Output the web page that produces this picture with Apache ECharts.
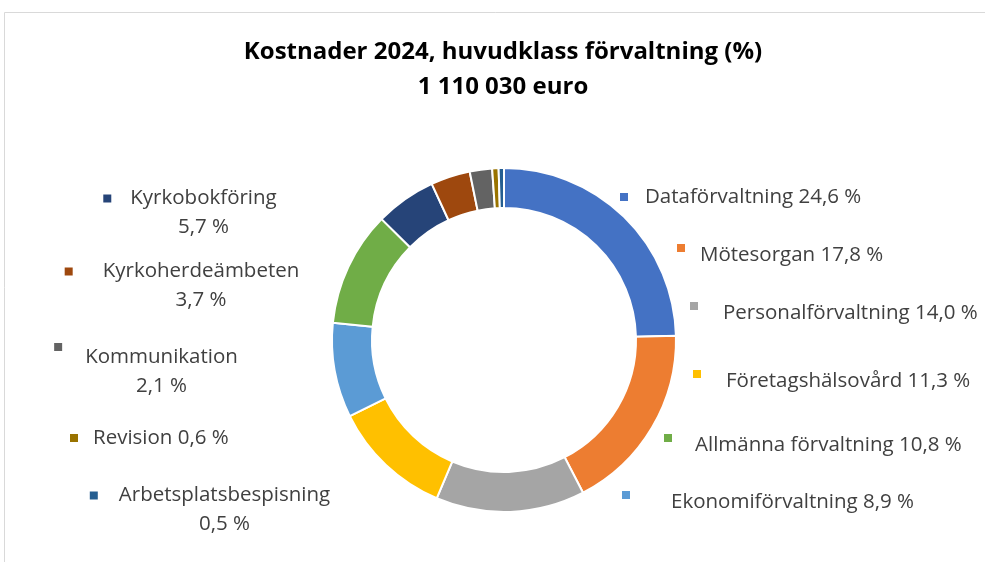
<!DOCTYPE html>
<html>
<head>
<meta charset="utf-8">
<script src="https://cdn.jsdelivr.net/npm/echarts@6/dist/echarts.min.js"></script>
<style>
  html, body { margin: 0; padding: 0; background: #fff; }
  #main { width: 985px; height: 562px; }
</style>
</head>
<body>
<div id="main"></div>
<script>
// data, clockwise from the top
var categories = ['Dataförvaltning', 'Mötesorgan', 'Personalförvaltning', 'Företagshälsovård',
  'Ekonomiförvaltning', 'Allmänna förvaltning', 'Kyrkobokföring', 'Kyrkoherdeämbeten',
  'Kommunikation', 'Revision', 'Arbetsplatsbespisning'];
var values = [24.6, 17.8, 14.0, 11.3, 8.9, 10.8, 5.7, 3.7, 2.1, 0.6, 0.5];
var titleLines = ['Kostnader 2024, huvudklass förvaltning (%)', '1 110 030 euro'];

var colors = ['#4472C4', '#ED7D31', '#A5A5A5', '#FFC000', '#5B9BD5', '#70AD47',
  '#264478', '#9E480E', '#636363', '#997300', '#255E91'];

// label placement: x, y, align, gap between marker and text, two lines, marker raised
var labelPos = [
  [620, 197, 'left', 17, false, false],
  [677, 255, 'left', 15, false, true],
  [690, 313, 'left', 25, false, true],
  [693, 381, 'left', 25, false, true],
  [622, 502, 'left', 41, false, true],
  [664, 445, 'left', 23, false, true],
  [190, 213, 'center', 19, true, false],
  [182, 286, 'center', 30, true, false],
  [146, 372, 'center', 23, true, true],
  [70, 438, 'left', 15, false, false],
  [210, 510, 'center', 21, true, false]
];

var FONT = 'Open Sans';
var FS = 20.5;
var MW = 8;

function fmt(v) {
  return v.toFixed(1).replace('.', ',') + ' %';
}

var rich = {};
labelPos.forEach(function (p, i) {
  var lh = p[4] ? 29 : 22;
  rich['m' + i] = { width: MW, height: MW, backgroundColor: colors[i],
    verticalAlign: p[5] ? 'top' : 'middle' };
  rich['g' + i] = { width: p[3], height: 1 };
  rich['t' + i] = { fontFamily: FONT, fontSize: FS, color: '#404040', lineHeight: lh };
  rich['v' + i] = { fontFamily: FONT, fontSize: FS, color: '#404040', lineHeight: 29,
    padding: [0, 0, 0, MW + p[3]] };
});

var chart = echarts.init(document.getElementById('main'));

var option = {
  backgroundColor: '#fff',
  title: {
    text: titleLines.join('\n'),
    left: 503,
    top: 35,
    textAlign: 'center',
    padding: 0,
    textStyle: {
      fontFamily: FONT,
      fontSize: 24,
      fontWeight: 'bold',
      color: '#000',
      lineHeight: 35
    }
  },
  graphic: [{
    type: 'rect',
    shape: { x: 4.5, y: 12.5, width: 1100, height: 700 },
    style: { fill: 'none', stroke: '#d9d9d9', lineWidth: 1 },
    silent: true
  }],
  series: [{
    type: 'pie',
    center: [504, 340],
    radius: [132, 172],
    startAngle: 90,
    clockwise: true,
    avoidLabelOverlap: false,
    itemStyle: { borderColor: '#fff', borderWidth: 2 },
    label: {
      show: true,
      formatter: function (params) {
        var i = params.dataIndex;
        var p = labelPos[i];
        var head = '{m' + i + '|}{g' + i + '|}';
        if (p[4]) {
          return head + '{t' + i + '|' + params.name + '}\n{v' + i + '|' + fmt(params.value) + '}';
        }
        return head + '{t' + i + '|' + params.name + ' ' + fmt(params.value) + '}';
      },
      rich: rich
    },
    labelLine: { show: false },
    labelLayout: function (params) {
      var p = labelPos[params.dataIndex];
      return { x: p[0], y: p[1], align: p[2], verticalAlign: 'middle' };
    },
    emphasis: { disabled: true },
    data: categories.map(function (name, i) {
      return { name: name, value: values[i], itemStyle: { color: colors[i] } };
    })
  }]
};

chart.setOption(option);
</script>
</body>
</html>
